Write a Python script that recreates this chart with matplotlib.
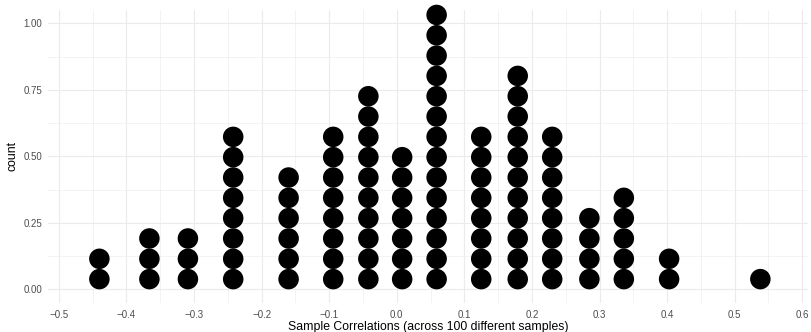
import numpy as np
import matplotlib.pyplot as plt
from matplotlib.ticker import FixedLocator

plt.rcParams['font.family'] = ['Liberation Sans', 'DejaVu Sans']

# bin centres of the dotplot and number of samples in each bin
bin_centers = [-0.440, -0.366, -0.309, -0.242, -0.160, -0.094, -0.042, 0.008,
               0.059, 0.125, 0.179, 0.230, 0.285, 0.336, 0.403, 0.538]
bin_counts = [2, 3, 3, 8, 6, 8, 10, 7, 14, 8, 11, 8, 4, 5, 2, 1]

x_ticks = [-0.5, -0.4, -0.3, -0.2, -0.1, 0.0, 0.1, 0.2, 0.3, 0.4, 0.5, 0.6]
y_ticks = [0.00, 0.25, 0.50, 0.75, 1.00]

step = 0.0764  # vertical spacing of stacked dots (axis units)

xs, ys = [], []
for c, n in zip(bin_centers, bin_counts):
    for k in range(n):
        xs.append(c)
        ys.append((k + 0.5) * step)

fig = plt.figure(figsize=(8.11, 3.32), dpi=100)
ax = fig.add_axes([0.0592, 0.0886, 0.9371, 0.8813])

ax.scatter(xs, ys, s=218, color='black', edgecolors='none', zorder=3, clip_on=False)

ax.set_xlim(-0.516, 0.6085)
ax.set_ylim(-0.05, 1.05)
ax.set_xticks(x_ticks)
ax.set_yticks(y_ticks)
ax.set_yticklabels(['%.2f' % v for v in y_ticks])
ax.xaxis.set_minor_locator(FixedLocator(np.array(x_ticks[:-1]) + 0.05))
ax.yaxis.set_minor_locator(FixedLocator([0.125, 0.375, 0.625, 0.875]))

ax.grid(which='major', color='#EBEBEB', linewidth=0.8)
ax.grid(which='minor', color='#EBEBEB', linewidth=0.4)
ax.set_axisbelow(True)
for sp in ax.spines.values():
    sp.set_visible(False)
ax.tick_params(which='both', length=0)
ax.tick_params(axis='both', labelsize=7, labelcolor='#4D4D4D')
ax.tick_params(axis='x', pad=5)
ax.tick_params(axis='y', pad=4)

ax.set_xlabel('Sample Correlations (across 100 different samples)', fontsize=8.8, labelpad=1)
ax.set_ylabel('count', fontsize=8.8, labelpad=4)

fig.savefig('out.png', dpi=100)
